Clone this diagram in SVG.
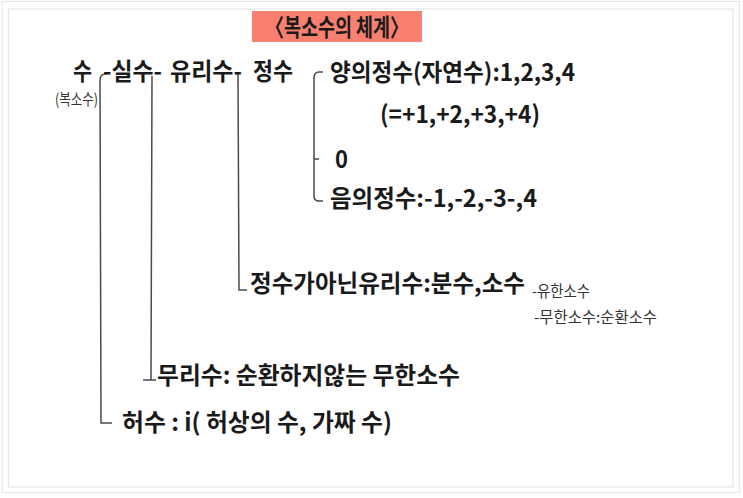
<svg xmlns="http://www.w3.org/2000/svg" width="743" height="498" viewBox="0 0 743 498">
<style>
.t{font-family:"Noto Sans CJK KR","Noto Sans",sans-serif;font-weight:700;font-size:24px;fill:#1a1a1a}
.s{font-family:"Noto Sans CJK KR","Noto Sans",sans-serif;font-weight:400;font-size:15.5px;fill:#333}
.c{fill:none;stroke:#4a4a4a;stroke-width:1.5}
.frame{fill:none;stroke:#e6e6e6;stroke-width:1.2}
</style>
<rect x="0" y="0" width="743" height="498" fill="#ffffff"/>
<rect class="frame" x="2" y="1.5" width="737.5" height="491"/>
<rect class="frame" x="8.5" y="9" width="724.5" height="478"/>
<g id="title">
<rect x="252" y="11" width="170" height="31" fill="#f9806e"/>
<text class="t" x="337" y="36" text-anchor="middle" font-size="21.5" font-weight="500" textLength="143" lengthAdjust="spacingAndGlyphs">〈복소수의 체계〉</text>
</g>
<g id="connectors">
<path class="c" d="M106,74 Q100,74 100,80 L101,423 L112,423"/>
<path class="c" d="M152,76 L151,380 M143,380 L156,380"/>
<path class="c" d="M238,73 L239,290 L247,290"/>
<path class="c" d="M323,72 L319,72 Q314,72 314,78 L314,196 Q314,201 319,201 L323,201 M314,159 L319,159"/>
</g>
<g id="node-su">
<text class="t" x="73" y="80" textLength="19" lengthAdjust="spacingAndGlyphs">수</text>
<text class="s" x="55" y="105" textLength="43" lengthAdjust="spacingAndGlyphs">(복소수)</text>
</g>
<g id="node-silsu"><text class="t" x="103" y="80" textLength="59" lengthAdjust="spacingAndGlyphs">-실수-</text></g>
<g id="node-yurisu"><text class="t" x="170" y="80" textLength="72" lengthAdjust="spacingAndGlyphs">유리수-</text></g>
<g id="node-jeongsu"><text class="t" x="253" y="80" textLength="40" lengthAdjust="spacingAndGlyphs">정수</text></g>
<g id="node-positive">
<text class="t" x="330" y="81" textLength="245" lengthAdjust="spacingAndGlyphs">양의정수(자연수):1,2,3,4</text>
<text class="t" x="380" y="123" textLength="160" lengthAdjust="spacingAndGlyphs">(=+1,+2,+3,+4)</text>
</g>
<g id="node-zero"><text class="t" x="335" y="168" textLength="13" lengthAdjust="spacingAndGlyphs">0</text></g>
<g id="node-negative"><text class="t" x="330" y="207" textLength="207" lengthAdjust="spacingAndGlyphs">음의정수:-1,-2,-3-,4</text></g>
<g id="node-nonint">
<text class="t" x="250" y="292" textLength="275" lengthAdjust="spacingAndGlyphs">정수가아닌유리수:분수,소수</text>
<text class="s" x="532" y="297" textLength="58" lengthAdjust="spacingAndGlyphs">-유한소수</text>
<text class="s" x="534" y="323" textLength="123" lengthAdjust="spacingAndGlyphs">-무한소수:순환소수</text>
</g>
<g id="node-irrational"><text class="t" x="157" y="384" textLength="303" lengthAdjust="spacingAndGlyphs">무리수: 순환하지않는 무한소수</text></g>
<g id="node-imaginary"><text class="t" x="122" y="431" textLength="270" lengthAdjust="spacingAndGlyphs">허수 : i( 허상의 수, 가짜 수)</text></g>
</svg>
